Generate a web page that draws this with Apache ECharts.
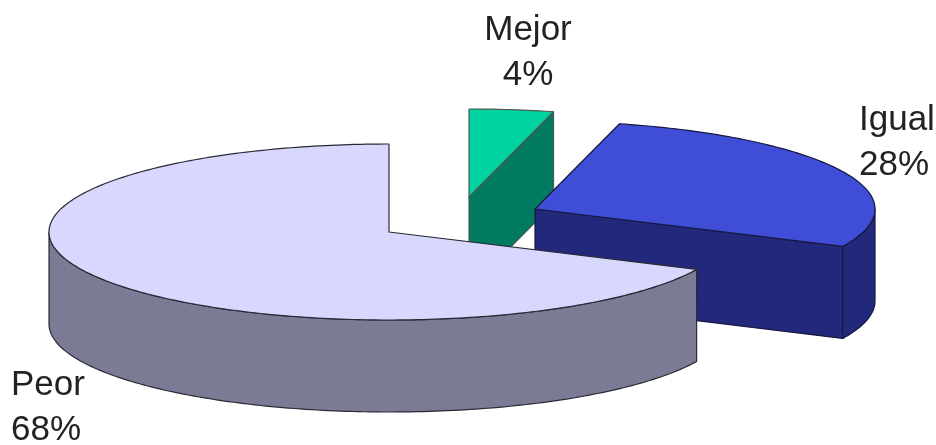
<!DOCTYPE html>
<html>
<head>
<meta charset="utf-8">
<style>html,body{margin:0;padding:0;background:#fff}#c{width:936px;height:445px}</style>
<script src="https://cdn.jsdelivr.net/npm/echarts@6/dist/echarts.min.js"></script>
</head>
<body>
<div id="c"></div>
<script>
// Data, clockwise from twelve o'clock
const categories = ['Mejor', 'Igual', 'Peor'];
const shares = [4, 28, 68];

// Colours
const topColors = ['#00D2A0', '#404DD6', '#D8D8FF'];
const sideColors = ['#007A60', '#22297C', '#7B7B96'];
const edgeColors = ['#4a5a55', '#15183f', '#2a2a35'];

// Layout
const radiusX = 340, radiusY = 88, depth = 92;
const sliceCenters = [[469, 197], [535, 209], [389, 232]];
const labelAnchors = [
  { x: 528, y: 8, align: 'center' },
  { x: 859, y: 98, align: 'left' },
  { x: 11, y: 363, align: 'left' }
];

const total = shares.reduce((a, b) => a + b, 0);

function rim(c, deg, drop) {
  const r = deg * Math.PI / 180;
  return [c[0] + radiusX * Math.sin(r), c[1] - radiusY * Math.cos(r) + (drop || 0)];
}
function arc(c, from, to, drop) {
  const pts = [];
  for (let a = from; a < to; a += 1) pts.push(rim(c, a, drop));
  pts.push(rim(c, to, drop));
  return pts;
}

function renderItem(params, api) {
  const i = params.dataIndex;
  const value = api.value(0);
  let before = 0;
  for (let k = 0; k < i; k++) before += shares[k];
  const start = before / total * 360;
  const end = start + value / total * 360;
  const c = sliceCenters[i];
  const children = [];
  const side = { fill: sideColors[i], stroke: edgeColors[i], lineWidth: 1.2, lineJoin: 'round' };
  const top = { fill: topColors[i], stroke: edgeColors[i], lineWidth: 1.2, lineJoin: 'round' };

  // cut face along the slice's closing edge
  if (end > 0 && end < 180) {
    const p = rim(c, end);
    children.push({ type: 'polygon', shape: { points: [c, p, [p[0], p[1] + depth], [c[0], c[1] + depth]] }, style: side });
  }
  // outer wall on the front half of the rim
  const wallFrom = Math.max(start, 90), wallTo = Math.min(end, 270);
  if (wallTo > wallFrom) {
    children.push({
      type: 'polygon',
      shape: { points: arc(c, wallFrom, wallTo, 0).concat(arc(c, wallFrom, wallTo, depth).reverse()) },
      style: side
    });
  }
  // top face
  children.push({ type: 'polygon', shape: { points: [c].concat(arc(c, start, end, 0)) }, style: top });
  // label
  const l = labelAnchors[i];
  children.push({
    type: 'text',
    x: l.x, y: l.y,
    style: {
      text: categories[i] + '\n' + value + '%',
      fontFamily: 'Liberation Sans',
      fontSize: 35,
      lineHeight: 45,
      fill: '#222',
      align: l.align,
      verticalAlign: 'top'
    }
  });
  return { type: 'group', children };
}

const chart = echarts.init(document.getElementById('c'), null, { renderer: 'canvas' });
chart.setOption({
  animation: false,
  backgroundColor: '#fff',
  series: [{
    type: 'custom',
    coordinateSystem: 'none',
    renderItem,
    data: categories.map((n, i) => ({ name: n, value: [shares[i]] }))
  }]
});
</script>
</body>
</html>
